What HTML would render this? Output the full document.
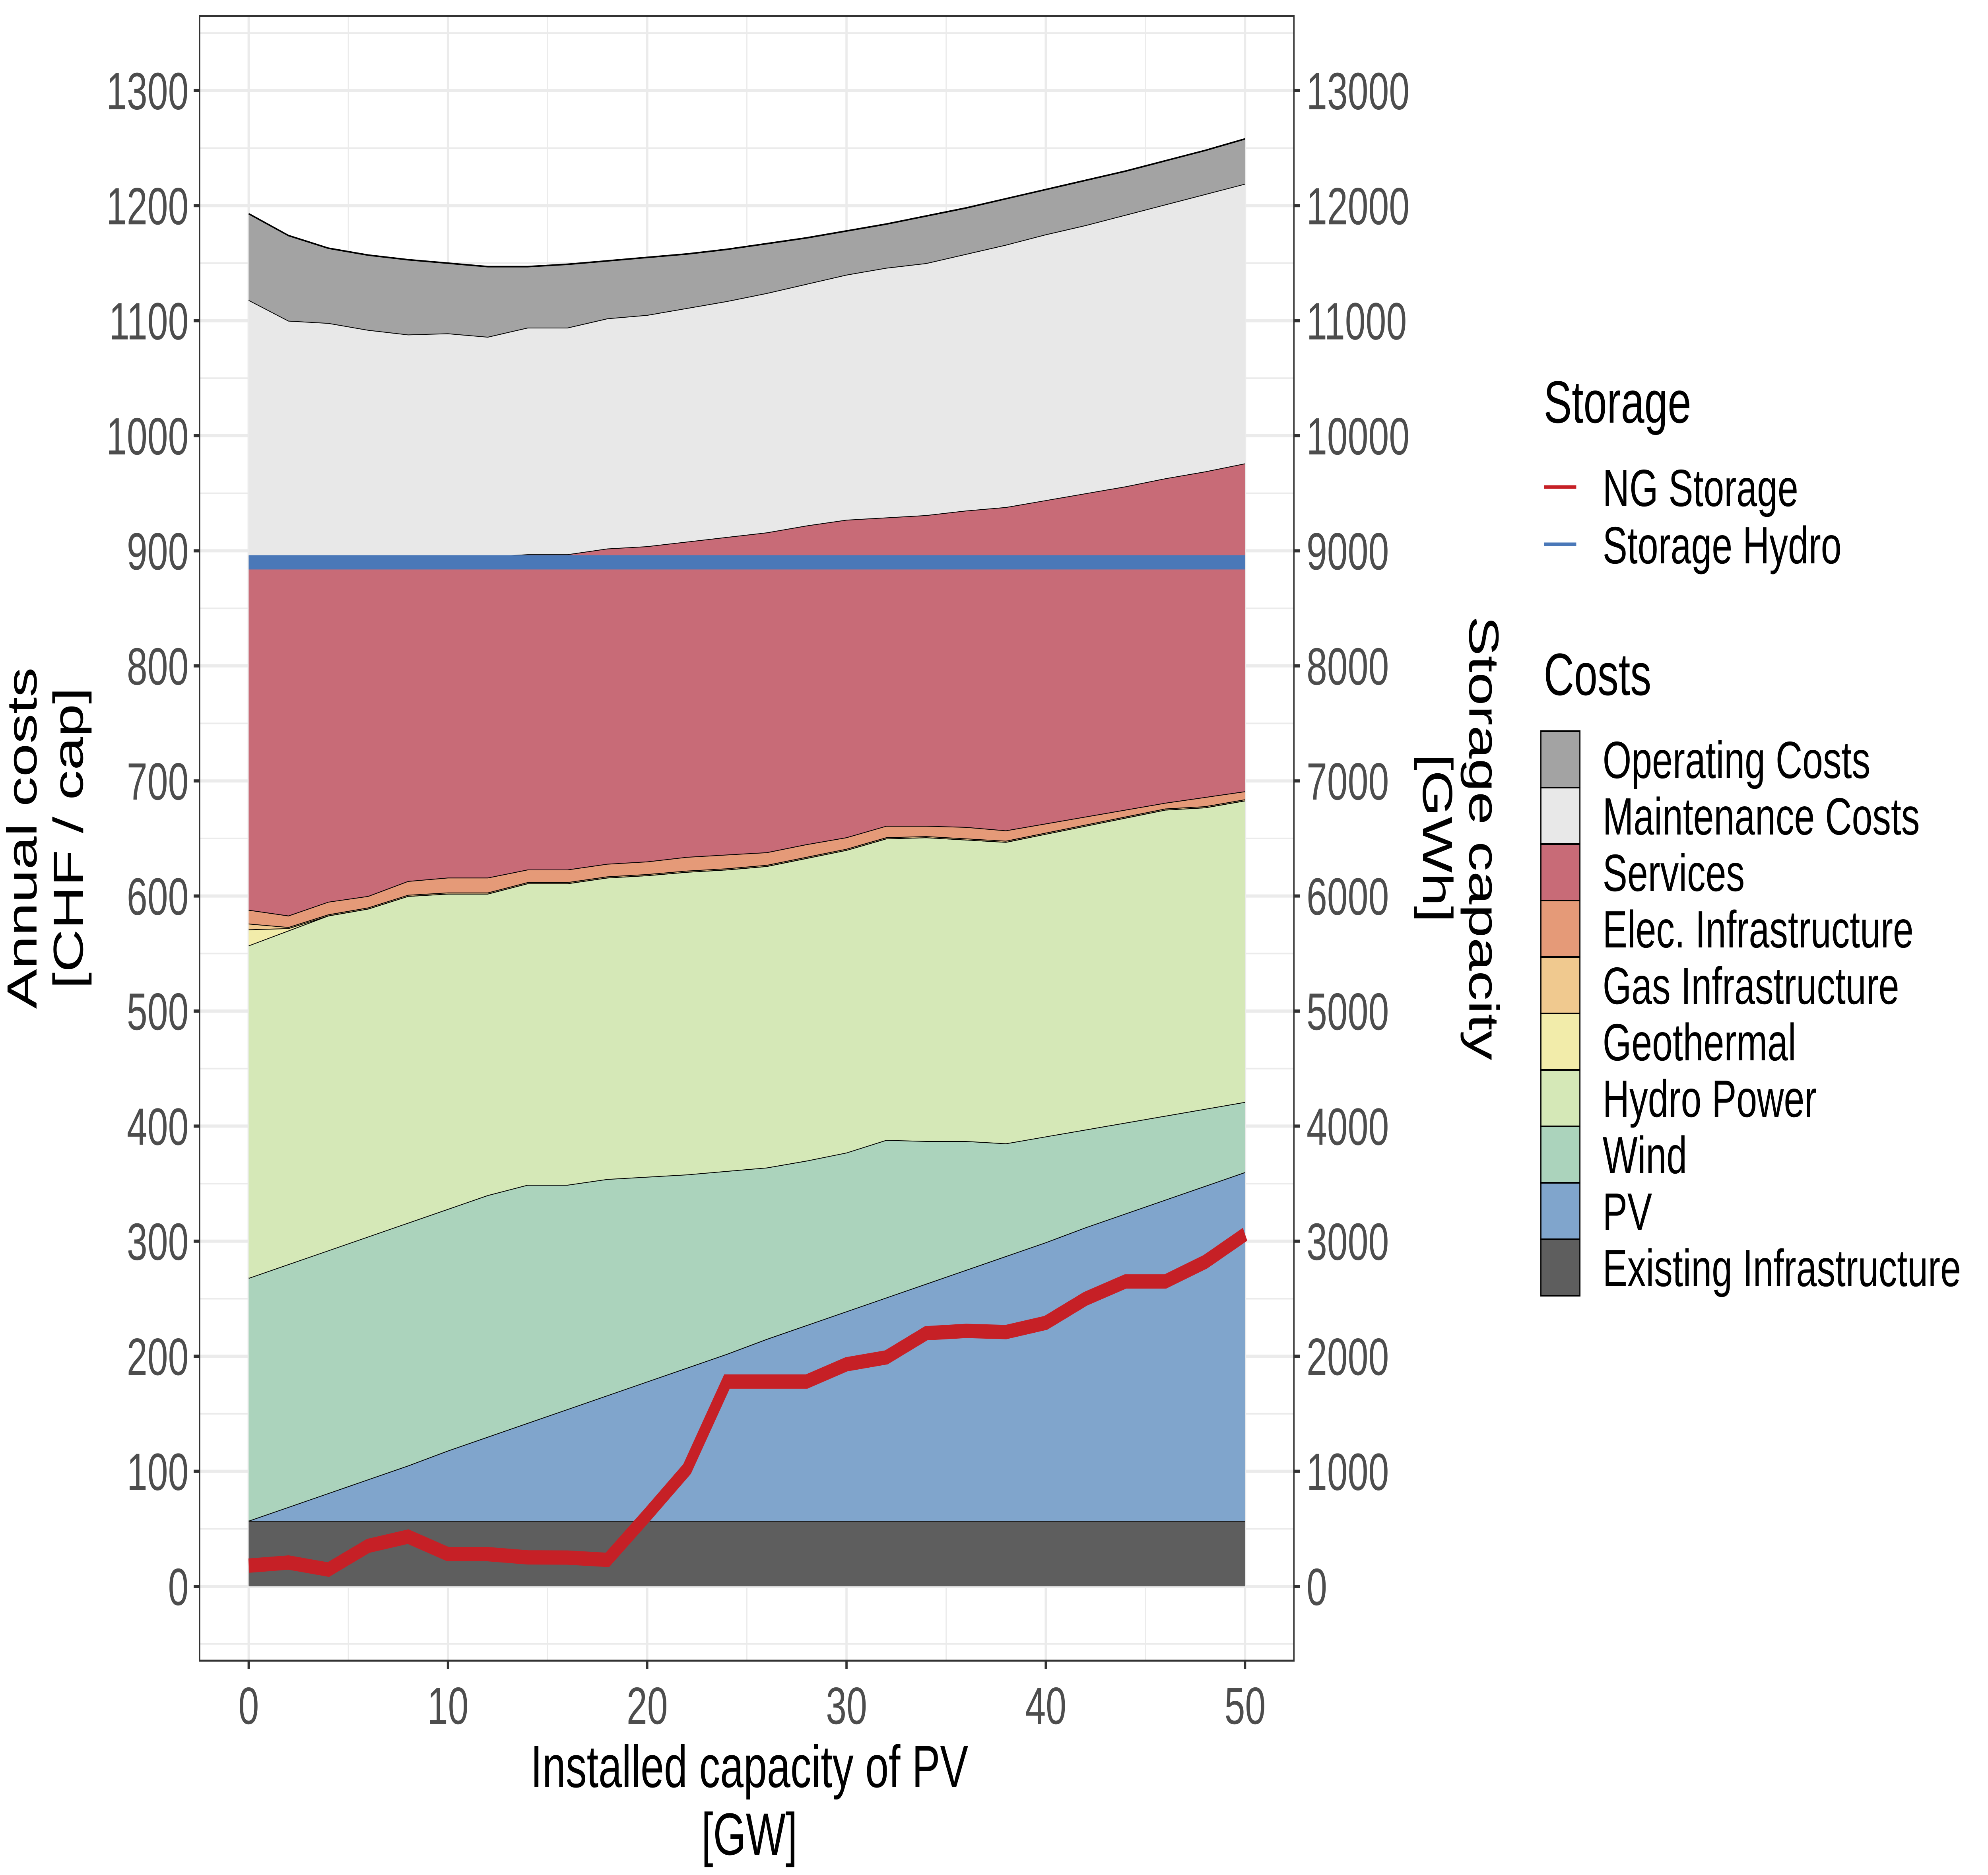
<!DOCTYPE html>
<html><head><meta charset="utf-8"><style>
html,body{margin:0;padding:0;background:#fff;overflow:hidden;}
svg{display:block;font-family:"Liberation Sans",sans-serif;width:100vw;height:100vh;}
</style></head><body>
<svg id="chart" viewBox="0 0 7083 4716" preserveAspectRatio="none" xmlns="http://www.w3.org/2000/svg">
<rect width="7083" height="4716" fill="#fff"/>
<g id="grid"></g>
<g id="areas"></g>
<g id="lines"></g>
<rect x="711" y="40" width="3899" height="4137" fill="none" stroke="#333" stroke-width="5"/>
<g id="axes"></g>
<text transform="translate(170,2108) rotate(-90)" text-anchor="middle" font-size="150" fill="#000"><tspan x="0" y="-40">Annual costs</tspan><tspan x="0" y="125">[CHF / cap]</tspan></text>
<text transform="translate(5195,2108) rotate(90)" text-anchor="middle" font-size="150" fill="#000"><tspan x="0" y="-40">Storage capacity</tspan><tspan x="0" y="125">[GWh]</tspan></text>
<text x="2670" y="4495" text-anchor="middle" font-size="150" fill="#000">Installed capacity of PV</text>
<text x="2670" y="4665" text-anchor="middle" font-size="150" fill="#000">[GW]</text>
<g id="legend">
<text x="5500" y="1063" font-size="150">Storage</text>
<line x1="5501" x2="5616" y1="1225" y2="1225" stroke="#c62026" stroke-width="9"/>
<text x="5710" y="1273" font-size="132">NG Storage</text>
<line x1="5501" x2="5616" y1="1369" y2="1369" stroke="#4a78b8" stroke-width="9"/>
<text x="5710" y="1417" font-size="132">Storage Hydro</text>
<text x="5500" y="1748" font-size="150">Costs</text>
</g>
</svg>
<script>
const xs = [0,2,4,6,8,10,12,14,16,18,20,22,24,26,28,30,32,34,36,38,40,42,44,46,48,50];
const existing = [57,57,57,57,57,57,57,57,57,57,57,57,57,57,57,57,57,57,57,57,57,57,57,57,57,57];
const pv = [0,12,24,36,48,61,73,85,97,109,121,133,145,158,170,182,194,206,218,230,242,255,267,279,291,303];
const wind = [211,211,211,211,211,210,210,207,195,188,178,168,159,149,143,138,137,124,112,98,92,85,79,73,67,61];
const hydro = [289,290,291,285,284,274,262,262,262,262,262,263,262,262,263,263,262,264,262,262,263,264,265,266,262,262];
const geothermal = [14,2,0,0,0,0,0,0,0,0,0,0,0,0,0,0,0,0,0,0,0,0,0,0,0,0];
const gasInfra = [5,1,1,1,1,1,1,1,1,1,1,1,1,1,1,1,1,1,1,1,1,1,1,1,1,1];
const elecInfra = [12,10,11,10,12,13,13,11,11,11,11,12,12,11,11,10,10,9,10,9,8,7,6,5,8,7];
const services = [307,312,300,295,282,279,279,274,274,274,274,274,276,278,277,276,268,270,275,281,281,281,281,282,283,285];
const maintenance = [223,205,203,197,193,194,191,197,197,200,201,203,205,208,210,213,217,219,223,228,231,233,236,238,241,243];
const operating = [75,74,65,65,65,61,61,53,55,50,50,47,45,43,40,38,38,41,40,40,39,39,38,38,38,39];
const ngStorage = [180,207,146,352,432,280,280,252,250,230,620,1020,1780,1780,1780,1930,1990,2200,2220,2210,2290,2500,2650,2650,2820,3060];
const storageHydro = [8900,8900,8900,8900,8900,8900,8900,8900,8900,8900,8900,8900,8900,8900,8900,8900,8900,8900,8900,8900,8900,8900,8900,8900,8900,8900];
const yTicks = [0,100,200,300,400,500,600,700,800,900,1000,1100,1200,1300];
const y2Ticks = [0,1000,2000,3000,4000,5000,6000,7000,8000,9000,10000,11000,12000,13000];
const xTicks = [0,10,20,30,40,50];
const costNames = ["Existing Infrastructure","PV","Wind","Hydro Power","Geothermal","Gas Infrastructure","Elec. Infrastructure","Services","Maintenance Costs","Operating Costs"];
const costColors = ["#5e5e5e","#80a5cc","#abd3bc","#d5e8b7","#f2ecaa","#f0c98f","#e59a78","#c86b77","#e8e8e8","#a3a3a3"];

const NS="http://www.w3.org/2000/svg";
const X0=711,X1=4610,Y0=40,Y1=4177;
function sx(v){return 886+(v-0)*71.0;}
function sy(v){return 3990-v*2.894;}
function sy2(v){return sy(v/10);}
function mk(tag,parent,attrs){const e=document.createElementNS(NS,tag);for(const k in attrs)e.setAttribute(k,attrs[k]);parent.appendChild(e);return e;}

const grid=document.getElementById('grid');
for(let v=-50;v<=1350;v+=50){const y=sy(v);if(y<Y0||y>Y1)continue;
 const l=mk('line',grid,{x1:X0,x2:X1,y1:y,y2:y,stroke:'#ebebeb','stroke-width':(v%100===0)?8:4});
 
 }
for(let v=-5;v<=55;v+=5){const x=sx(v);if(x<X0||x>X1)continue;
 const l=mk('line',grid,{x1:x,x2:x,y1:Y0,y2:Y1,stroke:'#ebebeb','stroke-width':(v%10===0)?8:4});
 
 }

const series=[existing,pv,wind,hydro,geothermal,gasInfra,elecInfra,services,maintenance,operating];
const areas=document.getElementById('areas');
let base=xs.map(()=>0);
series.forEach((s,i)=>{
 const top=base.map((b,j)=>b+s[j]);
 let pts=xs.map((x,j)=>sx(x)+','+sy(top[j]));
 let bpts=xs.map((x,j)=>sx(x)+','+sy(base[j])).reverse();
 const p=mk('polygon',areas,{points:pts.concat(bpts).join(' '),fill:costColors[i]});
 
 
 const pl=mk('polyline',areas,{points:pts.join(' '),fill:'none',stroke:'#000','stroke-width':4});
 
 
 base=top;
});

const lines=document.getElementById('lines');
const hl=mk('polyline',lines,{points:xs.map((x,j)=>sx(x)+','+sy2(storageHydro[j])).join(' '),fill:'none',stroke:'#4a78b8','stroke-width':36});


const nl=mk('polyline',lines,{points:xs.map((x,j)=>sx(x)+','+sy2(ngStorage[j])).join(' '),fill:'none',stroke:'#c62026','stroke-width':36,'stroke-linejoin':'miter'});



const axes=document.getElementById('axes');
yTicks.forEach(v=>{const y=sy(v);
 const t=mk('line',axes,{x1:690,x2:711,y1:y,y2:y,stroke:'#333','stroke-width':8});
 
 
 const tx=mk('text',axes,{x:672,y:y+47,'text-anchor':'end','font-size':132,fill:'#4d4d4d'});tx.textContent=v;
 
 });
y2Ticks.forEach(v=>{const y=sy2(v);
 const t=mk('line',axes,{x1:4610,x2:4631,y1:y,y2:y,stroke:'#333','stroke-width':8});
 
 
 const tx=mk('text',axes,{x:4655,y:y+47,'text-anchor':'start','font-size':132,fill:'#4d4d4d'});tx.textContent=v;
 
 });
xTicks.forEach(v=>{const x=sx(v);
 const t=mk('line',axes,{x1:x,x2:x,y1:4177,y2:4198,stroke:'#333','stroke-width':8});
 
 
 const tx=mk('text',axes,{x:x,y:4336,'text-anchor':'middle','font-size':132,fill:'#4d4d4d'});tx.textContent=v;
 
 });

const leg=document.getElementById('legend');
const order=[9,8,7,6,5,4,3,2,1,0];
order.forEach((ci,k)=>{const y=1839+k*142;
 const r=mk('rect',leg,{x:5490,y:y,width:139,height:142,fill:costColors[ci],stroke:'#000','stroke-width':4});
 
 
 const tx=mk('text',leg,{x:5710,y:y+118,'font-size':132,fill:'#000'});tx.textContent=costNames[ci];
 
 });
</script>
</body></html>
